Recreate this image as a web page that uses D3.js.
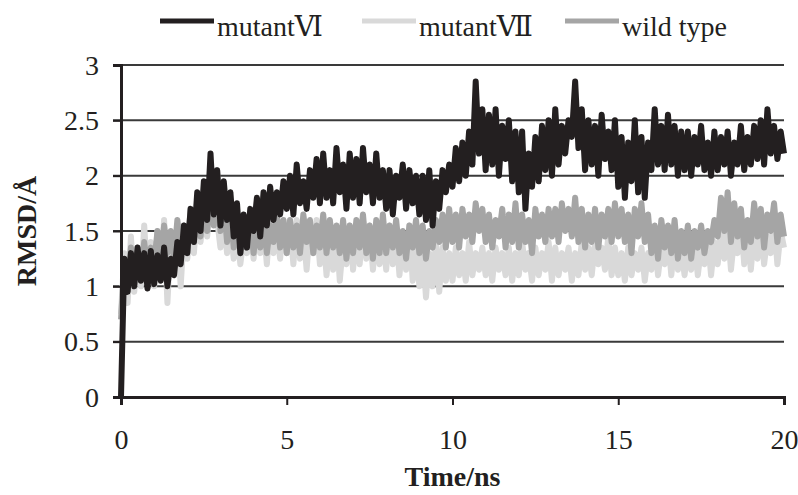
<!DOCTYPE html>
<html lang="en">
<head>
<meta charset="UTF-8">
<title>RMSD</title>
<script src="https://d3js.org/d3.v7.min.js"></script>
<style>
  body { margin: 0; background: #fff; }
  svg text { font-family: "Liberation Serif", "DejaVu Serif", serif; fill: #231f20; }
</style>
</head>
<body>
<div id="chart"></div>
<script>
    // sampled every 0.1 ns, 0 .. 20 ns
    const timeStep = 0.1;

    const mutantVI = [
        0, 1.25, 0.95, 1.3, 1.0, 1.35, 1.05, 1.3, 0.98, 1.32,
        1.02, 1.28, 1.05, 1.35, 1.0, 1.25, 1.1, 1.4, 1.2, 1.55,
        1.3, 1.7, 1.4, 1.85, 1.5, 1.95, 1.6, 2.2, 1.65, 2.05,
        1.55, 1.95, 1.6, 1.85, 1.45, 1.75, 1.3, 1.65, 1.35, 1.7,
        1.5, 1.8, 1.45, 1.85, 1.55, 1.9, 1.6, 1.85, 1.65, 1.95,
        1.7, 2.0, 1.65, 2.1, 1.75, 1.95, 1.7, 2.05, 1.8, 2.15,
        1.75, 2.2, 1.8, 2.05, 1.75, 2.25, 1.85, 2.1, 1.7, 2.2,
        1.8, 2.15, 1.75, 2.25, 1.85, 2.1, 1.75, 2.2, 1.8, 2.05,
        1.7, 2.05, 1.65, 2.0, 1.8, 2.1, 1.7, 2.05, 1.75, 2.0,
        1.65, 2.0, 1.6, 2.05, 1.55, 1.95, 1.7, 2.05, 1.85, 2.1,
        1.9, 2.25, 1.95, 2.3, 2.0, 2.4, 2.1, 2.85, 2.2, 2.6,
        2.05, 2.55, 2.1, 2.6, 2.0, 2.45, 2.15, 2.5, 1.95, 2.4,
        1.85, 2.4, 1.7, 2.2, 1.9, 2.35, 1.95, 2.45, 2.05, 2.5,
        2.0, 2.6, 2.1, 2.45, 2.2, 2.5, 2.35, 2.85, 2.25, 2.6,
        2.05, 2.5, 2.1, 2.45, 2.0, 2.55, 2.15, 2.4, 2.05, 2.5,
        1.9, 2.35, 1.8, 2.3, 1.95, 2.5, 1.85, 2.35, 1.8, 2.3,
        2.05, 2.6, 2.1, 2.45, 2.05, 2.55, 2.1, 2.45, 2.0, 2.4,
        2.05, 2.4, 2.0, 2.35, 2.1, 2.45, 2.05, 2.3, 2.0, 2.4,
        2.05, 2.35, 2.1, 2.4, 2.0, 2.3, 2.1, 2.45, 2.05, 2.35,
        2.1, 2.45, 2.15, 2.5, 2.1, 2.6, 2.2, 2.45, 2.15, 2.4,
        2.2
    ];

    const mutantVII = [
        0.75, 1.3, 0.85, 1.45, 0.95, 1.35, 1.0, 1.55, 1.05, 1.4,
        1.0, 1.5, 1.1, 1.6, 0.85, 1.45, 1.2, 1.55, 1.0, 1.5,
        1.25, 1.6, 1.3, 1.75, 1.4, 1.7, 1.45, 1.8, 2.05, 1.6,
        1.35, 1.6, 1.3, 1.55, 1.25, 1.5, 1.2, 1.45, 1.3, 1.55,
        1.25, 1.6, 1.3, 1.55, 1.2, 1.65, 1.3, 1.5, 1.25, 1.6,
        1.3, 1.55, 1.2, 1.6, 1.25, 1.5, 1.15, 1.55, 1.3, 1.6,
        1.2, 1.5, 1.1, 1.45, 1.15, 1.5, 1.05, 1.4, 1.2, 1.55,
        1.15, 1.5, 1.2, 1.6, 1.25, 1.55, 1.15, 1.5, 1.2, 1.45,
        1.15, 1.55, 1.2, 1.5, 1.1, 1.45, 1.15, 1.55, 1.05, 1.4,
        1.0, 1.35, 0.9, 1.3, 1.0, 1.4, 0.95, 1.35, 1.05, 1.3,
        1.05, 1.35, 1.1, 1.3, 1.05, 1.4, 1.1, 1.3, 1.15, 1.35,
        1.1, 1.3, 1.05, 1.35, 1.15, 1.3, 1.1, 1.35, 1.05, 1.3,
        1.1, 1.4, 1.15, 1.3, 1.05, 1.35, 1.1, 1.3, 1.15, 1.4,
        1.05, 1.35, 1.1, 1.3, 1.15, 1.35, 1.05, 1.3, 1.1, 1.4,
        1.15, 1.35, 1.1, 1.4, 1.2, 1.35, 1.15, 1.45, 1.1, 1.35,
        1.1, 1.3, 1.05, 1.35, 1.1, 1.3, 1.15, 1.35, 1.05, 1.3,
        1.15, 1.4, 1.1, 1.35, 1.2, 1.45, 1.1, 1.4, 1.15, 1.35,
        1.1, 1.35, 1.15, 1.4, 1.1, 1.35, 1.2, 1.45, 1.1, 1.4,
        1.2, 1.5, 1.25, 1.55, 1.15, 1.45, 1.3, 1.6, 1.2, 1.5,
        1.15, 1.5, 1.25, 1.55, 1.2, 1.45, 1.3, 1.6, 1.2, 1.5,
        1.35
    ];

    const wildType = [
        0.7, 1.2, 1.0, 1.35, 1.05, 1.3, 1.1, 1.4, 1.15, 1.35,
        1.2, 1.5, 1.25, 1.55, 1.3, 1.5, 1.25, 1.6, 1.35, 1.55,
        1.3, 1.7, 1.4, 1.65, 1.45, 1.8, 1.5, 1.85, 1.55, 2.05,
        1.5, 1.75, 1.4, 1.7, 1.35, 1.6, 1.3, 1.55, 1.35, 1.6,
        1.3, 1.55, 1.35, 1.6, 1.3, 1.55, 1.4, 1.65, 1.35, 1.6,
        1.3, 1.6, 1.35, 1.55, 1.3, 1.65, 1.4, 1.6, 1.3, 1.55,
        1.35, 1.65, 1.3, 1.6, 1.35, 1.55, 1.3, 1.6, 1.25, 1.55,
        1.3, 1.6, 1.35, 1.65, 1.3, 1.55, 1.25, 1.6, 1.3, 1.65,
        1.3, 1.55, 1.35, 1.6, 1.3, 1.5, 1.25, 1.55, 1.35, 1.6,
        1.3, 1.55, 1.25, 1.5, 1.35, 1.6, 1.4, 1.65, 1.35, 1.7,
        1.4, 1.65, 1.35, 1.7, 1.45, 1.65, 1.4, 1.75, 1.5, 1.7,
        1.4, 1.65, 1.35, 1.6, 1.45, 1.7, 1.35, 1.65, 1.4, 1.75,
        1.35, 1.65, 1.4, 1.6, 1.3, 1.7, 1.45, 1.65, 1.4, 1.7,
        1.45, 1.7, 1.4, 1.75, 1.5, 1.7, 1.45, 1.8, 1.4, 1.7,
        1.35, 1.65, 1.4, 1.7, 1.35, 1.65, 1.45, 1.7, 1.4, 1.75,
        1.45, 1.7, 1.4, 1.65, 1.3, 1.7, 1.45, 1.75, 1.4, 1.65,
        1.3, 1.55, 1.25, 1.6, 1.35, 1.55, 1.3, 1.6, 1.25, 1.5,
        1.3, 1.55, 1.25, 1.5, 1.35, 1.55, 1.3, 1.5, 1.4, 1.6,
        1.45, 1.8, 1.5, 1.85, 1.4, 1.75, 1.45, 1.7, 1.35, 1.6,
        1.4, 1.75, 1.45, 1.7, 1.35, 1.65, 1.5, 1.75, 1.4, 1.65,
        1.45
    ];

    const seriesNames = ["mutantⅥ", "mutantⅦ", "wild type"];
    const seriesColors = ["#231f20", "#d9d9d9", "#a5a5a5"];
    const xTicks = [0, 5, 10, 15, 20];
    const yTicks = [0, 0.5, 1, 1.5, 2, 2.5, 3];

    const width = 798, height = 495;
    const margin = {left: 121, right: 14, top: 65, bottom: 98};

    const svg = d3.select("#chart").append("svg")
        .attr("width", width)
        .attr("height", height);

    const x = d3.scaleLinear().domain([0, 20]).range([margin.left, width - margin.right]);
    const y = d3.scaleLinear().domain([0, 3]).range([height - margin.bottom, margin.top]);

    // gridlines with small outside ticks on the left
    svg.append("g")
        .selectAll("line")
        .data(yTicks.filter(d => d > 0))
        .join("line")
        .attr("x1", margin.left - 8)
        .attr("x2", x(20))
        .attr("y1", d => y(d))
        .attr("y2", d => y(d))
        .attr("stroke", "#3a3a3a")
        .attr("stroke-width", 2);

    const line = d3.line()
        .x((d, i) => x(i * timeStep))
        .y(d => y(d));

    // draw order: mutantVII, wild type, mutantVI on top
    const drawOrder = [1, 2, 0];
    const allSeries = [mutantVI, mutantVII, wildType];
    drawOrder.forEach(k => {
        svg.append("path")
            .datum(allSeries[k])
            .attr("d", line)
            .attr("fill", "none")
            .attr("stroke", seriesColors[k])
            .attr("stroke-width", 6)
            .attr("stroke-linejoin", "round");
    });

    // axes
    const xAxis = svg.append("g")
        .attr("transform", `translate(0,${y(0)})`)
        .call(d3.axisBottom(x).tickValues(xTicks).tickSize(8).tickFormat(d3.format("d")));
    xAxis.select(".domain").attr("stroke", "#231f20").attr("stroke-width", 3);
    xAxis.selectAll(".tick line").attr("stroke", "#231f20").attr("stroke-width", 2);
    xAxis.selectAll(".tick text")
        .attr("y", 52)
        .attr("dy", 0)
        .style("font-size", "28px")
        .style("font-family", "'Liberation Serif', serif")
        .attr("fill", "#231f20");

    const yAxis = svg.append("g")
        .attr("transform", `translate(${x(0)},0)`)
        .call(d3.axisLeft(y).tickValues(yTicks).tickSize(8).tickFormat(d => d));
    yAxis.select(".domain").attr("stroke", "#231f20").attr("stroke-width", 3);
    yAxis.selectAll(".tick line").attr("stroke", "#231f20").attr("stroke-width", 2);
    yAxis.selectAll(".tick text")
        .attr("x", -22)
        .attr("dy", "0.33em")
        .style("font-size", "28px")
        .style("font-family", "'Liberation Serif', serif")
        .attr("fill", "#231f20");

    // axis titles
    svg.append("text")
        .attr("x", x(10))
        .attr("y", 486)
        .attr("text-anchor", "middle")
        .style("font-size", "28px")
        .style("font-weight", "bold")
        .text("Time/ns");

    svg.append("text")
        .attr("transform", `translate(36,${y(1.5)}) rotate(-90)`)
        .attr("text-anchor", "middle")
        .style("font-size", "28px")
        .style("font-weight", "bold")
        .text("RMSD/Å");

    // legend
    const legendX = [160, 362, 565];
    const legend = svg.append("g");
    seriesNames.forEach((name, i) => {
        legend.append("line")
            .attr("x1", legendX[i])
            .attr("x2", legendX[i] + 54)
            .attr("y1", 21)
            .attr("y2", 21)
            .attr("stroke", seriesColors[i])
            .attr("stroke-width", 5);
        legend.append("text")
            .attr("x", legendX[i] + 57)
            .attr("y", 36)
            .style("font-size", "28px")
            .text(name);
    });
</script>
</body>
</html>
